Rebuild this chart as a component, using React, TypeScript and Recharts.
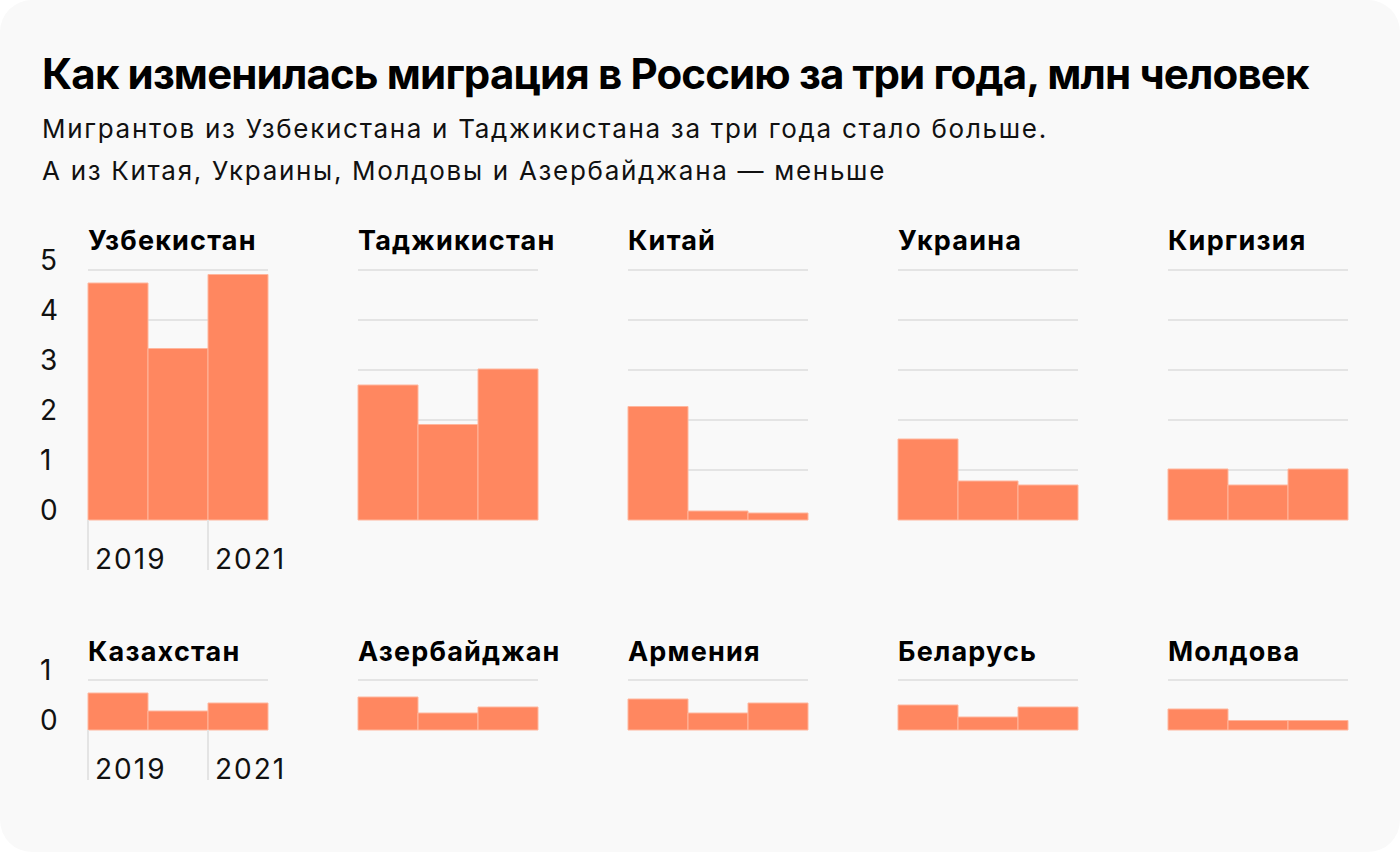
import React from "react";
import { BarChart, Bar, XAxis, YAxis, CartesianGrid } from "recharts";

const years = ["2019", "2020", "2021"];
const labeledYears = ["2019", "2021"];

const topCountries = ["Узбекистан", "Таджикистан", "Китай", "Украина", "Киргизия"];
const bottomCountries = ["Казахстан", "Азербайджан", "Армения", "Беларусь", "Молдова"];

const uzbekistan = [4.74, 3.43, 4.91];
const tajikistan = [2.7, 1.91, 3.02];
const china = [2.27, 0.18, 0.14];
const ukraine = [1.62, 0.78, 0.7];
const kyrgyzstan = [1.02, 0.7, 1.02];

const kazakhstan = [0.74, 0.38, 0.54];
const azerbaijan = [0.66, 0.34, 0.46];
const armenia = [0.62, 0.34, 0.54];
const belarus = [0.5, 0.26, 0.46];
const moldova = [0.42, 0.19, 0.19];

const topValues = [uzbekistan, tajikistan, china, ukraine, kyrgyzstan];
const bottomValues = [kazakhstan, azerbaijan, armenia, belarus, moldova];

const topTicks = [0, 1, 2, 3, 4, 5];
const bottomTicks = [0, 1];

const TITLE = "Как изменилась миграция в Россию за три года, млн человек";
const SUB1 = "Мигрантов из Узбекистана и Таджикистана за три года стало больше.";
const SUB2 = "А из Китая, Украины, Молдовы и Азербайджана — меньше";

const FONT = "Inter, 'Noto Sans', sans-serif";
const BAR_FILL = "#ff8760";
const BAR_STROKE = "#ffb69d";
const GRID = "#e4e4e4";

const YTick = (props: any) => {
  const { y, payload, show } = props;
  if (!show) return <g />;
  return (
    <text x={12} y={y} textAnchor="start" fontSize={28} fontFamily={FONT} fill="#111" letterSpacing={1}>
      {payload.value}
    </text>
  );
};

const XTick = (props: any) => {
  const { x, y, payload, show } = props;
  if (!show || !labeledYears.includes(payload.value)) return <g />;
  const left = x - 30;
  return (
    <g>
      <line x1={left} y1={y} x2={left} y2={y + 50} stroke={GRID} strokeWidth={2} />
      <text x={left + 7} y={y + 49} textAnchor="start" fontSize={28} fontFamily={FONT} fill="#111" letterSpacing={2}>
        {payload.value}
      </text>
    </g>
  );
};

function Panel({
  values,
  col,
  top,
  plotHeight,
  max,
  ticks,
}: {
  values: number[];
  col: number;
  top: number;
  plotHeight: number;
  max: number;
  ticks: number[];
}) {
  const data = years.map((y, i) => ({ year: y, value: values[i] }));
  const first = col === 0;
  return (
    <div style={{ position: "absolute", left: 28 + 270 * col, top }}>
      <BarChart
        width={270}
        height={30 + plotHeight + 60}
        data={data}
        margin={{ top: 30, right: 30, bottom: 0, left: 0 }}
        barCategoryGap={0}
        barGap={0}
      >
        <CartesianGrid
          vertical={false}
          horizontalValues={ticks.filter((t) => t > 0)}
          stroke={GRID}
          strokeWidth={2}
        />
        <XAxis
          dataKey="year"
          axisLine={false}
          tickLine={false}
          tickSize={0}
          tickMargin={0}
          height={60}
          interval={0}
          tick={<XTick show={first} />}
        />
        <YAxis
          width={60}
          domain={[0, max]}
          ticks={ticks}
          axisLine={false}
          tickLine={false}
          tickSize={0}
          tickMargin={0}
          interval={0}
          tick={<YTick show={first} />}
        />
        <Bar
          dataKey="value"
          fill={BAR_FILL}
          stroke={BAR_STROKE}
          strokeWidth={1}
          isAnimationActive={false}
        />
      </BarChart>
    </div>
  );
}

export default function App() {
  return (
    <div
      style={{
        position: "absolute",
        left: 0,
        top: 0,
        width: 1400,
        height: 852,
        background: "#fff",
        fontFamily: FONT,
      }}
    >
      <div
        style={{
          position: "absolute",
          left: 0,
          top: 0,
          width: 1400,
          height: 852,
          background: "#f9f9f9",
          borderRadius: 32,
        }}
      />
      <svg
        width={1400}
        height={852}
        style={{ position: "absolute", left: 0, top: 0 }}
      >
        <text x={42} y={89} fontSize={42} fontWeight={700} fontFamily={FONT} fill="#000" letterSpacing={-0.85}>
          {TITLE}
        </text>
        <text x={42} y={138} fontSize={26} fontFamily={FONT} fill="#111" letterSpacing={1.7}>
          {SUB1}
        </text>
        <text x={42} y={180} fontSize={26} fontFamily={FONT} fill="#111" letterSpacing={1.7}>
          {SUB2}
        </text>
        {topCountries.map((c, i) => (
          <text key={c} x={88 + 270 * i} y={250} fontSize={27} fontWeight={700} fontFamily={FONT} fill="#000" letterSpacing={1.2}>
            {c}
          </text>
        ))}
        {bottomCountries.map((c, i) => (
          <text key={c} x={88 + 270 * i} y={661} fontSize={27} fontWeight={700} fontFamily={FONT} fill="#000" letterSpacing={1.2}>
            {c}
          </text>
        ))}
      </svg>
      {topValues.map((v, i) => (
        <Panel key={"t" + i} values={v} col={i} top={240} plotHeight={250} max={5} ticks={topTicks} />
      ))}
      {bottomValues.map((v, i) => (
        <Panel key={"b" + i} values={v} col={i} top={650} plotHeight={50} max={1} ticks={bottomTicks} />
      ))}
    </div>
  );
}
